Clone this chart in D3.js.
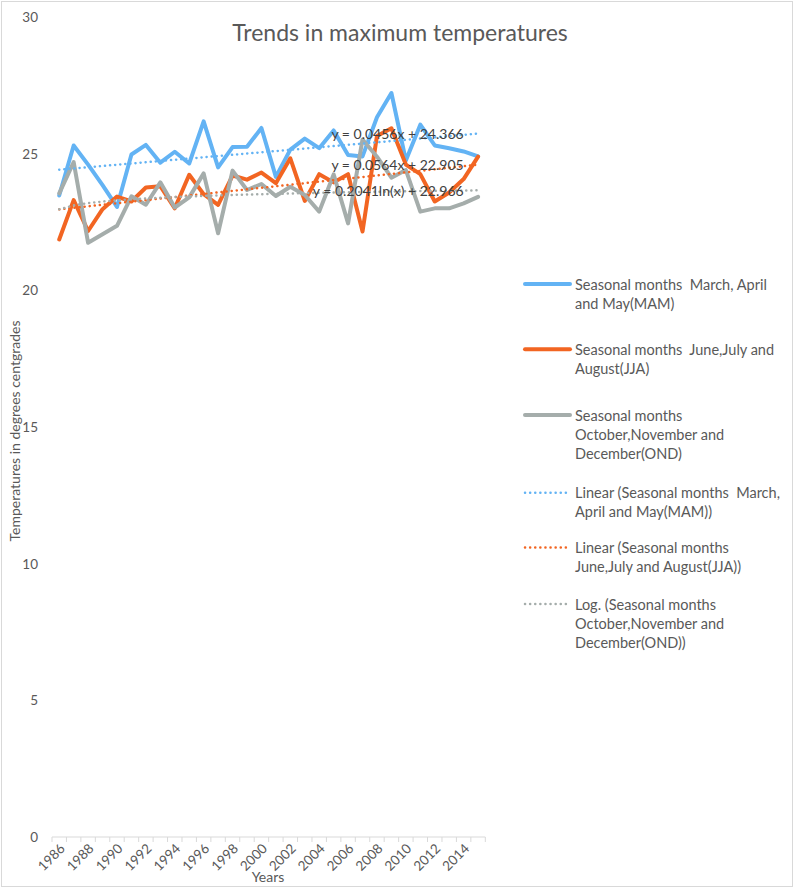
<!DOCTYPE html>
<html>
<head>
<meta charset="utf-8">
<script src="https://cdn.jsdelivr.net/npm/d3@7/dist/d3.min.js"></script>
<style>
  body { margin: 0; background: #fff; }
  text { font-family: Lato, "Liberation Sans", sans-serif; fill: #595959; }
</style>
</head>
<body>
<svg width="794" height="888"></svg>
<script>
var years = [1986, 1987, 1988, 1989, 1990, 1991, 1992, 1993, 1994, 1995,
             1996, 1997, 1998, 1999, 2000, 2001, 2002, 2003, 2004, 2005,
             2006, 2007, 2008, 2009, 2010, 2011, 2012, 2013, 2014, 2015];

var mamTemps = [23.47, 25.30, 24.60, 23.85, 23.05, 24.97, 25.32, 24.67, 25.07, 24.64,
                26.18, 24.50, 25.24, 25.25, 25.94, 24.15, 25.15, 25.55, 25.20, 25.85,
                24.95, 24.90, 26.33, 27.22, 24.75, 26.06, 25.30, 25.20, 25.08, 24.90];

var jjaTemps = [21.86, 23.30, 22.17, 22.97, 23.43, 23.25, 23.76, 23.81, 23.00, 24.23,
                23.52, 23.13, 24.20, 24.05, 24.31, 23.92, 24.83, 23.27, 24.25, 23.95,
                24.25, 22.15, 25.65, 25.93, 24.60, 24.25, 23.25, 23.58, 24.07, 24.89];

var ondTemps = [23.55, 24.69, 21.74, 22.05, 22.36, 23.44, 23.13, 23.95, 23.03, 23.40,
                24.28, 22.09, 24.38, 23.67, 23.89, 23.45, 23.79, 23.49, 22.88, 24.24,
                22.45, 25.52, 24.89, 24.12, 24.40, 22.88, 23.00, 23.00, 23.18, 23.42];

var yTicks = [0, 5, 10, 15, 20, 25, 30];
var xLabelYears = [1986, 1988, 1990, 1992, 1994, 1996, 1998, 2000, 2002, 2004, 2006, 2008, 2010, 2012, 2014];

// trendline coefficients as printed on the chart
var trendTypes = ["linear", "linear", "log"];
var trendSlopes = [0.0456, 0.0564, 0.2041];
var trendIntercepts = [24.366, 22.905, 22.966];
var trendLabels = ["y = 0.0456x + 24.366", "y = 0.0564x + 22.905", "y = 0.2041ln(x) + 22.966"];

var seriesColors = ["#63b3f4", "#f26522", "#a5adab"];

var legendLines = [
  ["Seasonal months  March, April", "and May(MAM)"],
  ["Seasonal months  June,July and", "August(JJA)"],
  ["Seasonal months", "October,November and", "December(OND)"],
  ["Linear (Seasonal months  March,", "April and May(MAM))"],
  ["Linear (Seasonal months", "June,July and August(JJA))"],
  ["Log. (Seasonal months", "October,November and", "December(OND))"]
];

var svg = d3.select("svg");
var plot = { left: 52, right: 485.3, top: 17, bottom: 837 };

svg.append("rect")
  .attr("x", 1.5).attr("y", 1.5)
  .attr("width", 791).attr("height", 885)
  .attr("fill", "#fff")
  .attr("stroke", "#d9d9d9");

var x = d3.scaleBand()
  .domain(years)
  .range([plot.left, plot.right]);
var bw = x.bandwidth();

var y = d3.scaleLinear()
  .domain([0, 30])
  .range([plot.bottom, plot.top]);

function cx(yr) { return x(yr) + bw / 2; }

// title
svg.append("text")
  .attr("x", 400).attr("y", 32)
  .attr("text-anchor", "middle")
  .attr("dominant-baseline", "central")
  .style("font-size", "23px")
  .text("Trends in maximum temperatures");

// y axis labels
svg.append("g").selectAll("text")
  .data(yTicks)
  .enter().append("text")
  .attr("x", 38)
  .attr("y", function(d) { return y(d); })
  .attr("text-anchor", "end")
  .attr("dominant-baseline", "central")
  .style("font-size", "13.5px")
  .text(function(d) { return d; });

// x axis line + ticks at category boundaries
var xAxis = svg.append("g").attr("class", "x-axis");
xAxis.append("line")
  .attr("x1", plot.left).attr("x2", plot.right)
  .attr("y1", plot.bottom).attr("y2", plot.bottom)
  .attr("stroke", "#d9d9d9");
xAxis.selectAll("line.tick")
  .data(years.concat([null]))
  .enter().append("line")
  .attr("class", "tick")
  .attr("x1", function(d) { return d === null ? plot.right : x(d); })
  .attr("x2", function(d) { return d === null ? plot.right : x(d); })
  .attr("y1", plot.bottom).attr("y2", plot.bottom + 5)
  .attr("stroke", "#d9d9d9");
xAxis.selectAll("text")
  .data(xLabelYears)
  .enter().append("text")
  .attr("transform", function(d) { return "translate(" + (cx(d) + 3) + "," + (plot.bottom + 9) + ") rotate(-45)"; })
  .attr("text-anchor", "end")
  .attr("dominant-baseline", "central")
  .style("font-size", "13.5px")
  .text(function(d) { return d; });

// axis titles
svg.append("text")
  .attr("transform", "translate(14," + 431 + ") rotate(-90)")
  .attr("text-anchor", "middle")
  .attr("dominant-baseline", "central")
  .style("font-size", "14px")
  .text("Temperatures in degrees centgrades");

svg.append("text")
  .attr("x", 268).attr("y", 876)
  .attr("text-anchor", "middle")
  .attr("dominant-baseline", "central")
  .style("font-size", "14px")
  .text("Years");

// trend lines
function trendValue(k, i) {
  var t = i + 1;
  if (trendTypes[k] === "log") return trendSlopes[k] * Math.log(t) + trendIntercepts[k];
  return trendSlopes[k] * t + trendIntercepts[k];
}

var trendLine = d3.line()
  .x(function(d) { return cx(d[0]); })
  .y(function(d) { return y(d[1]); });

var series = [mamTemps, jjaTemps, ondTemps];

var valueLine = d3.line()
  .x(function(d, i) { return cx(years[i]); })
  .y(function(d) { return y(d); });

series.forEach(function(vals, k) {
  svg.append("path")
    .datum(vals)
    .attr("d", valueLine)
    .attr("fill", "none")
    .attr("stroke", seriesColors[k])
    .attr("stroke-width", 4)
    .attr("stroke-linejoin", "round")
    .attr("stroke-linecap", "round");
});

trendTypes.forEach(function(tp, k) {
  var pts = years.map(function(yr, i) { return [yr, trendValue(k, i)]; });
  svg.append("path")
    .datum(pts)
    .attr("d", trendLine)
    .attr("fill", "none")
    .attr("stroke", seriesColors[k])
    .attr("stroke-width", 2.5)
    .attr("stroke-dasharray", "0.1,5")
    .attr("stroke-linecap", "round");
});

// trend equations, anchored at the end of each trendline
trendLabels.forEach(function(lbl, k) {
  svg.append("text")
    .attr("x", cx(2014))
    .attr("y", y(trendValue(k, years.length - 1)))
    .attr("text-anchor", "end")
    .attr("dominant-baseline", "central")
    .style("font-size", "14px")
    .style("fill", "#404040")
    .style("white-space", "pre")
    .text(lbl);
});

// legend
var legendY = [284, 349.3, 415, 492.7, 547.5, 604];
var lineH = 19;
var legend = svg.append("g").attr("class", "legend");
legendLines.forEach(function(lines, k) {
  var g = legend.append("g").attr("transform", "translate(0," + legendY[k] + ")");
  var c = seriesColors[k % 3];
  var ln = g.append("line")
    .attr("x1", 525).attr("x2", 570)
    .attr("y1", 0).attr("y2", 0)
    .attr("stroke", c)
    .attr("stroke-linecap", "round");
  if (k < 3) {
    ln.attr("stroke-width", 4);
  } else {
    ln.attr("stroke-width", 2.5).attr("stroke-dasharray", "0.1,5");
  }
  var t = g.append("text")
    .attr("x", 575)
    .attr("y", 0)
    .style("font-size", "14.5px")
    .style("white-space", "pre");
  lines.forEach(function(s, j) {
    t.append("tspan")
      .attr("x", 575)
      .attr("y", j * lineH)
      .attr("dominant-baseline", "central")
      .text(s);
  });
});
</script>
</body>
</html>
